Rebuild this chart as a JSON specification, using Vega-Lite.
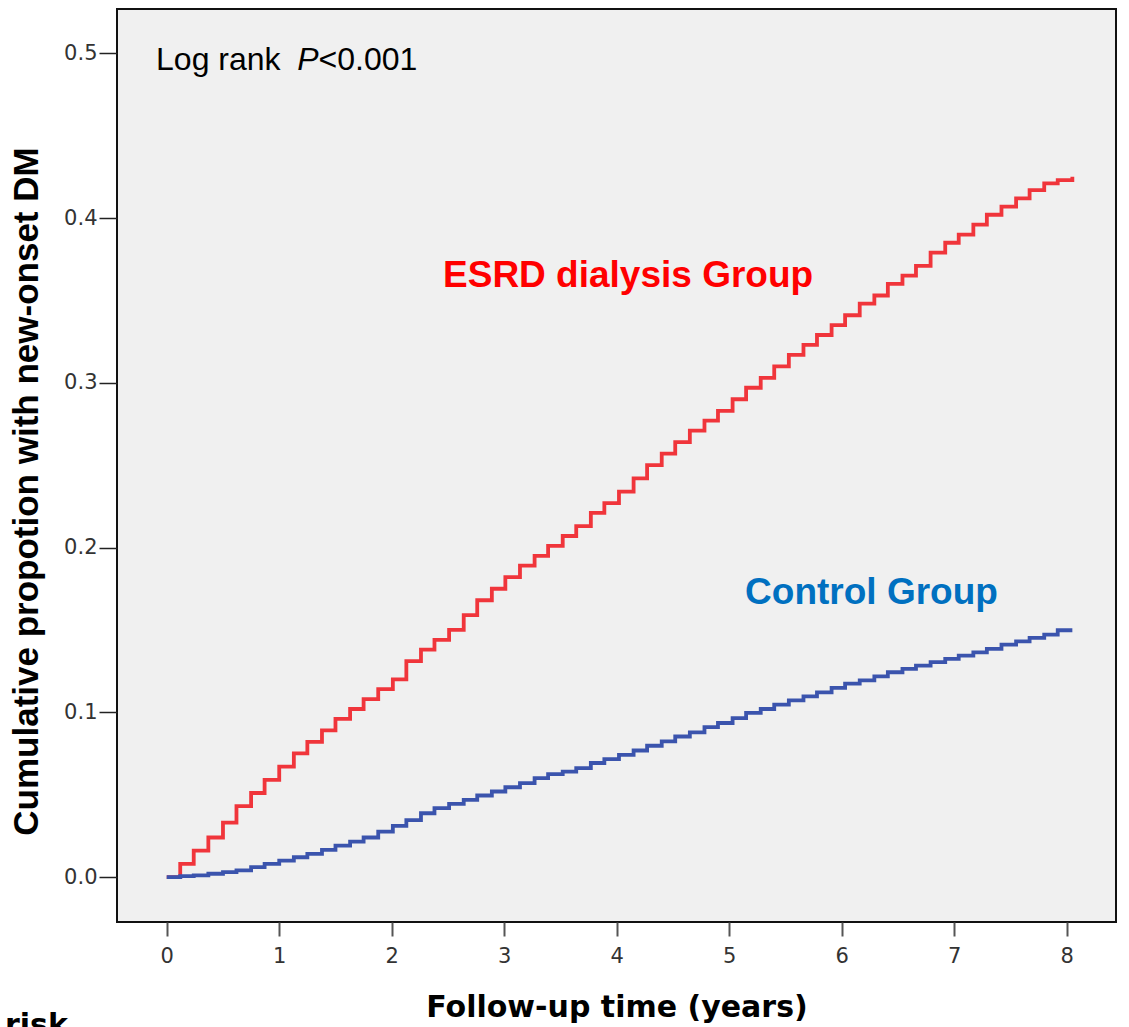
{
  "$schema": "https://vega.github.io/schema/vega-lite/v6.json",
  "width": 999,
  "height": 913,
  "autosize": {"type": "none"},
  "padding": {"left": 117, "top": 9, "right": 13, "bottom": 105},
  "background": "#ffffff",
  "config": {"view": {"fill": "#f0f0f0", "stroke": "#111111", "strokeWidth": 2}},
  "title": {"text": "risk", "orient": "bottom", "anchor": "start", "frame": "group", "font": "DejaVu Sans", "fontSize": 30, "fontWeight": "bold", "color": "#000000", "baseline": "alphabetic", "offset": 13, "dx": -112},
  "datasets": {
    "curves": [
      {"group": "ESRD", "t": 0, "p": 0},
      {"group": "ESRD", "t": 0.12, "p": 0.008},
      {"group": "ESRD", "t": 0.24, "p": 0.016},
      {"group": "ESRD", "t": 0.37, "p": 0.024},
      {"group": "ESRD", "t": 0.50, "p": 0.033},
      {"group": "ESRD", "t": 0.62, "p": 0.043},
      {"group": "ESRD", "t": 0.75, "p": 0.051},
      {"group": "ESRD", "t": 0.87, "p": 0.059},
      {"group": "ESRD", "t": 1.00, "p": 0.067},
      {"group": "ESRD", "t": 1.13, "p": 0.075},
      {"group": "ESRD", "t": 1.25, "p": 0.082},
      {"group": "ESRD", "t": 1.38, "p": 0.089},
      {"group": "ESRD", "t": 1.50, "p": 0.096},
      {"group": "ESRD", "t": 1.63, "p": 0.102},
      {"group": "ESRD", "t": 1.75, "p": 0.108},
      {"group": "ESRD", "t": 1.88, "p": 0.114},
      {"group": "ESRD", "t": 2.01, "p": 0.120},
      {"group": "ESRD", "t": 2.13, "p": 0.131},
      {"group": "ESRD", "t": 2.26, "p": 0.138},
      {"group": "ESRD", "t": 2.38, "p": 0.144},
      {"group": "ESRD", "t": 2.51, "p": 0.150},
      {"group": "ESRD", "t": 2.64, "p": 0.159},
      {"group": "ESRD", "t": 2.76, "p": 0.168},
      {"group": "ESRD", "t": 2.89, "p": 0.175},
      {"group": "ESRD", "t": 3.01, "p": 0.182},
      {"group": "ESRD", "t": 3.14, "p": 0.189},
      {"group": "ESRD", "t": 3.27, "p": 0.195},
      {"group": "ESRD", "t": 3.39, "p": 0.201},
      {"group": "ESRD", "t": 3.52, "p": 0.207},
      {"group": "ESRD", "t": 3.64, "p": 0.213},
      {"group": "ESRD", "t": 3.77, "p": 0.221},
      {"group": "ESRD", "t": 3.89, "p": 0.227},
      {"group": "ESRD", "t": 4.02, "p": 0.234},
      {"group": "ESRD", "t": 4.15, "p": 0.242},
      {"group": "ESRD", "t": 4.27, "p": 0.250},
      {"group": "ESRD", "t": 4.40, "p": 0.257},
      {"group": "ESRD", "t": 4.52, "p": 0.264},
      {"group": "ESRD", "t": 4.65, "p": 0.271},
      {"group": "ESRD", "t": 4.78, "p": 0.277},
      {"group": "ESRD", "t": 4.90, "p": 0.283},
      {"group": "ESRD", "t": 5.03, "p": 0.290},
      {"group": "ESRD", "t": 5.15, "p": 0.297},
      {"group": "ESRD", "t": 5.28, "p": 0.303},
      {"group": "ESRD", "t": 5.40, "p": 0.310},
      {"group": "ESRD", "t": 5.53, "p": 0.317},
      {"group": "ESRD", "t": 5.66, "p": 0.323},
      {"group": "ESRD", "t": 5.78, "p": 0.329},
      {"group": "ESRD", "t": 5.91, "p": 0.335},
      {"group": "ESRD", "t": 6.03, "p": 0.341},
      {"group": "ESRD", "t": 6.16, "p": 0.348},
      {"group": "ESRD", "t": 6.29, "p": 0.353},
      {"group": "ESRD", "t": 6.41, "p": 0.360},
      {"group": "ESRD", "t": 6.54, "p": 0.365},
      {"group": "ESRD", "t": 6.66, "p": 0.371},
      {"group": "ESRD", "t": 6.79, "p": 0.379},
      {"group": "ESRD", "t": 6.92, "p": 0.385},
      {"group": "ESRD", "t": 7.04, "p": 0.390},
      {"group": "ESRD", "t": 7.17, "p": 0.396},
      {"group": "ESRD", "t": 7.29, "p": 0.402},
      {"group": "ESRD", "t": 7.42, "p": 0.407},
      {"group": "ESRD", "t": 7.55, "p": 0.412},
      {"group": "ESRD", "t": 7.67, "p": 0.417},
      {"group": "ESRD", "t": 7.80, "p": 0.421},
      {"group": "ESRD", "t": 7.92, "p": 0.423},
      {"group": "ESRD", "t": 8.05, "p": 0.425},
      {"group": "Control", "t": 0, "p": 0},
      {"group": "Control", "t": 0.12, "p": 0.0005},
      {"group": "Control", "t": 0.24, "p": 0.001},
      {"group": "Control", "t": 0.37, "p": 0.002},
      {"group": "Control", "t": 0.50, "p": 0.003},
      {"group": "Control", "t": 0.62, "p": 0.004},
      {"group": "Control", "t": 0.75, "p": 0.006},
      {"group": "Control", "t": 0.87, "p": 0.008},
      {"group": "Control", "t": 1.00, "p": 0.010},
      {"group": "Control", "t": 1.13, "p": 0.012},
      {"group": "Control", "t": 1.25, "p": 0.014},
      {"group": "Control", "t": 1.38, "p": 0.0165},
      {"group": "Control", "t": 1.50, "p": 0.019},
      {"group": "Control", "t": 1.63, "p": 0.0215},
      {"group": "Control", "t": 1.75, "p": 0.024},
      {"group": "Control", "t": 1.88, "p": 0.0275},
      {"group": "Control", "t": 2.01, "p": 0.031},
      {"group": "Control", "t": 2.13, "p": 0.0345},
      {"group": "Control", "t": 2.26, "p": 0.0387},
      {"group": "Control", "t": 2.38, "p": 0.0418},
      {"group": "Control", "t": 2.51, "p": 0.0444},
      {"group": "Control", "t": 2.64, "p": 0.0468},
      {"group": "Control", "t": 2.76, "p": 0.0495},
      {"group": "Control", "t": 2.89, "p": 0.0519},
      {"group": "Control", "t": 3.01, "p": 0.0545},
      {"group": "Control", "t": 3.14, "p": 0.057},
      {"group": "Control", "t": 3.27, "p": 0.060},
      {"group": "Control", "t": 3.39, "p": 0.0625},
      {"group": "Control", "t": 3.52, "p": 0.064},
      {"group": "Control", "t": 3.64, "p": 0.0661},
      {"group": "Control", "t": 3.77, "p": 0.0692},
      {"group": "Control", "t": 3.89, "p": 0.0716},
      {"group": "Control", "t": 4.02, "p": 0.0742},
      {"group": "Control", "t": 4.15, "p": 0.0768},
      {"group": "Control", "t": 4.27, "p": 0.0797},
      {"group": "Control", "t": 4.40, "p": 0.0823},
      {"group": "Control", "t": 4.52, "p": 0.0853},
      {"group": "Control", "t": 4.65, "p": 0.0878},
      {"group": "Control", "t": 4.78, "p": 0.091},
      {"group": "Control", "t": 4.90, "p": 0.0935},
      {"group": "Control", "t": 5.03, "p": 0.0965},
      {"group": "Control", "t": 5.15, "p": 0.0996},
      {"group": "Control", "t": 5.28, "p": 0.102},
      {"group": "Control", "t": 5.40, "p": 0.1046},
      {"group": "Control", "t": 5.53, "p": 0.1072},
      {"group": "Control", "t": 5.66, "p": 0.1097},
      {"group": "Control", "t": 5.78, "p": 0.1121},
      {"group": "Control", "t": 5.91, "p": 0.1148},
      {"group": "Control", "t": 6.03, "p": 0.1174},
      {"group": "Control", "t": 6.16, "p": 0.1194},
      {"group": "Control", "t": 6.29, "p": 0.1218},
      {"group": "Control", "t": 6.41, "p": 0.1243},
      {"group": "Control", "t": 6.54, "p": 0.1263},
      {"group": "Control", "t": 6.66, "p": 0.1283},
      {"group": "Control", "t": 6.79, "p": 0.1304},
      {"group": "Control", "t": 6.92, "p": 0.1324},
      {"group": "Control", "t": 7.04, "p": 0.1344},
      {"group": "Control", "t": 7.17, "p": 0.1364},
      {"group": "Control", "t": 7.29, "p": 0.1385},
      {"group": "Control", "t": 7.42, "p": 0.1411},
      {"group": "Control", "t": 7.55, "p": 0.1431},
      {"group": "Control", "t": 7.67, "p": 0.1452},
      {"group": "Control", "t": 7.80, "p": 0.1472},
      {"group": "Control", "t": 7.92, "p": 0.1498},
      {"group": "Control", "t": 8.05, "p": 0.1498}
    ]
  },
  "layer": [
    {
      "data": {"name": "curves"},
      "mark": {"type": "line", "interpolate": "step-after", "strokeWidth": 3.8},
      "encoding": {
        "x": {
          "field": "t", "type": "quantitative",
          "scale": {"domain": [-0.442, 8.438], "nice": false, "zero": false},
          "axis": {
            "title": "Follow-up time (years)",
            "values": [0, 1, 2, 3, 4, 5, 6, 7, 8],
            "format": "d",
            "grid": false, "domain": false,
            "tickSize": 14, "tickWidth": 2, "tickColor": "#555555",
            "labelFont": "DejaVu Sans", "labelFontSize": 21, "labelColor": "#333333", "labelPadding": 9,
            "titleFont": "DejaVu Sans", "titleFontWeight": "bold", "titleFontSize": 30, "titleColor": "#000000",
            "titleBaseline": "alphabetic", "titleX": 499.5, "titleY": 94
          }
        },
        "y": {
          "field": "p", "type": "quantitative",
          "scale": {"domain": [-0.0273, 0.5269], "nice": false, "zero": false},
          "axis": {
            "title": "Cumulative propotion with new-onset DM",
            "values": [0, 0.1, 0.2, 0.3, 0.4, 0.5],
            "format": ".1f",
            "grid": false, "domain": false,
            "tickSize": 18, "tickWidth": 1.5, "tickColor": "#222222",
            "labelFont": "DejaVu Sans", "labelFontSize": 21, "labelColor": "#333333", "labelPadding": 2,
            "titleFont": "Liberation Sans", "titleFontWeight": "bold", "titleFontSize": 35, "titleColor": "#000000",
            "titleBaseline": "alphabetic", "titleAlign": "center", "titleX": -80, "titleY": 482
          }
        },
        "color": {
          "field": "group", "type": "nominal",
          "scale": {"domain": ["ESRD", "Control"], "range": ["#f0353b", "#3b54ad"]},
          "legend": null
        }
      }
    },
    {
      "data": {"values": [{"label": "Log rank", "x": -0.095, "y": 0.49}, {"label": "<0.001", "x": 1.35, "y": 0.49}]},
      "mark": {"type": "text", "font": "Liberation Sans", "fontSize": 32, "align": "left", "baseline": "alphabetic", "color": "#000000"},
      "encoding": {"x": {"field": "x", "type": "quantitative"}, "y": {"field": "y", "type": "quantitative"}, "text": {"field": "label"}}
    },
    {
      "data": {"values": [{"label": "P", "x": 1.16, "y": 0.49}]},
      "mark": {"type": "text", "font": "Liberation Sans", "fontSize": 32, "fontStyle": "italic", "align": "left", "baseline": "alphabetic", "color": "#000000"},
      "encoding": {"x": {"field": "x", "type": "quantitative"}, "y": {"field": "y", "type": "quantitative"}, "text": {"field": "label"}}
    },
    {
      "data": {"values": [{"label": "ESRD dialysis Group", "x": 2.456, "y": 0.3582}]},
      "mark": {"type": "text", "font": "Liberation Sans", "fontSize": 37, "fontWeight": "bold", "align": "left", "baseline": "alphabetic", "color": "#ff0000"},
      "encoding": {"x": {"field": "x", "type": "quantitative"}, "y": {"field": "y", "type": "quantitative"}, "text": {"field": "label"}}
    },
    {
      "data": {"values": [{"label": "Control Group", "x": 5.141, "y": 0.1658}]},
      "mark": {"type": "text", "font": "Liberation Sans", "fontSize": 37, "fontWeight": "bold", "align": "left", "baseline": "alphabetic", "color": "#0070c0"},
      "encoding": {"x": {"field": "x", "type": "quantitative"}, "y": {"field": "y", "type": "quantitative"}, "text": {"field": "label"}}
    }
  ]
}
